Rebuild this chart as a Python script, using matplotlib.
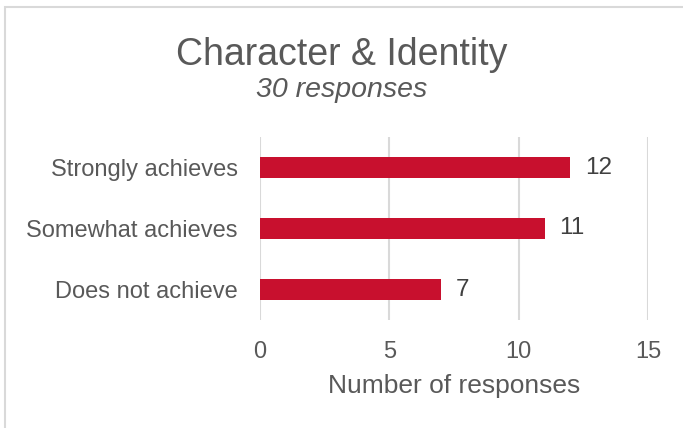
import matplotlib.pyplot as plt
from matplotlib.patches import Rectangle

categories = ['Does not achieve', 'Somewhat achieves', 'Strongly achieves']
counts = [7, 11, 12]
x_ticks = [0, 5, 10, 15]

title = 'Character & Identity'
subtitle = '30 responses'
xlabel = 'Number of responses'

bar_color = '#C8102E'
text_color = '#595959'
grid_color = '#D9D9D9'


def main():
    plt.rcParams['font.family'] = ['Liberation Sans', 'DejaVu Sans']
    fig = plt.figure(figsize=(6.83, 4.28), dpi=100)
    ax = fig.add_axes([260 / 683, 1 - 320 / 428, 388 / 683, 183 / 428])

    ypos = range(len(categories))
    bars = ax.barh(ypos, counts, height=0.36, color=bar_color, zorder=3)
    for b, v in zip(bars, counts):
        ax.text(b.get_width() + 0.55, b.get_y() + b.get_height() / 2, str(v),
                va='center', ha='left', fontsize=17.5, color='#404040')

    ax.set_yticks(list(ypos))
    ax.set_yticklabels(categories)
    ax.set_ylim(-0.5, len(categories) - 0.5)
    ax.set_xlim(0, 15)
    ax.set_xticks(x_ticks)
    ax.tick_params(axis='both', length=0, labelsize=17, colors=text_color)
    ax.tick_params(axis='y', pad=16)
    ax.tick_params(axis='x', pad=15)
    ax.xaxis.grid(True, color=grid_color, linewidth=1.5, zorder=0)
    ax.set_axisbelow(True)
    for s in ax.spines.values():
        s.set_visible(False)
    ax.set_xlabel(xlabel, fontsize=19, color=text_color, labelpad=8)

    fig.text(0.5, 1 - 55 / 428, title, ha='center', va='center',
             fontsize=27, color=text_color)
    fig.text(0.5, 1 - 90 / 428, subtitle, ha='center', va='center',
             fontsize=20.5, style='italic', color=text_color)

    # light frame around the chart area
    fig.patches.append(Rectangle((5 / 683, -0.1), 1.1, 1 - 7 / 428 + 0.1,
                                 transform=fig.transFigure, fill=False,
                                 edgecolor=grid_color, linewidth=1.5))

    fig.savefig('out.png', dpi=100)


if __name__ == '__main__':
    main()
